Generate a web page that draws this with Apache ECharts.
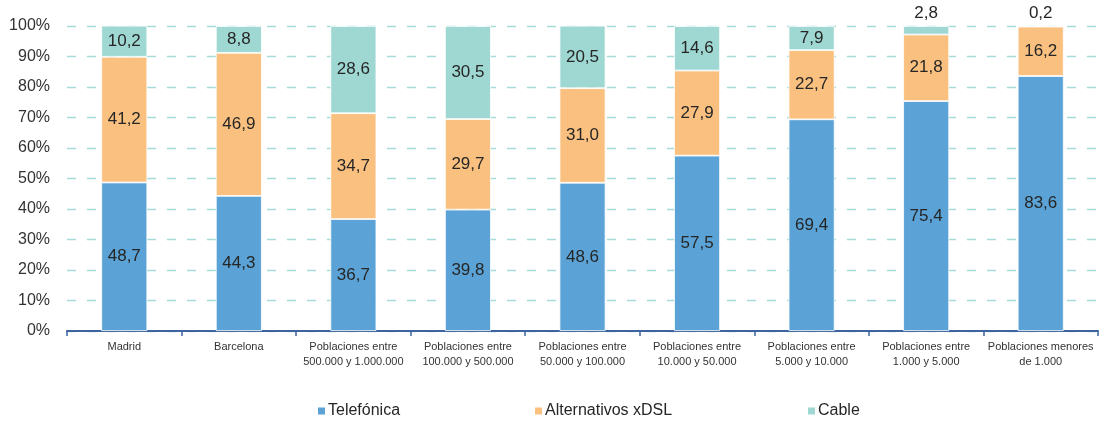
<!DOCTYPE html>
<html><head><meta charset="utf-8">
<script src="https://cdn.jsdelivr.net/npm/echarts@6/dist/echarts.min.js"></script>
<style>html,body{margin:0;padding:0;background:#fff}#c{width:1099px;height:422px}</style>
</head><body><div id="c"></div>
<script>
const categories = ['Madrid','Barcelona','Poblaciones entre\n500.000 y 1.000.000','Poblaciones entre\n100.000 y 500.000','Poblaciones entre\n50.000 y 100.000','Poblaciones entre\n10.000 y 50.000','Poblaciones entre\n5.000 y 10.000','Poblaciones entre\n1.000 y 5.000','Poblaciones menores\nde 1.000'];
const telefonica = [48.7, 44.3, 36.7, 39.8, 48.6, 57.5, 69.4, 75.4, 83.6];
const alternativos = [41.2, 46.9, 34.7, 29.7, 31.0, 27.9, 22.7, 21.8, 16.2];
const cable = [10.2, 8.8, 28.6, 30.5, 20.5, 14.6, 7.9, 2.8, 0.2];
const seriesNames = ['Telefónica','Alternativos xDSL','Cable'];
const colors = ['#5ba3d6','#fac07f','#9fd8d2'];

const font = 'Liberation Sans, Arial, sans-serif';
const fmt = v => v.toFixed(1).replace('.', ',');
const lbl = {show:true, position:'inside', fontSize:17, color:'#262626', fontFamily:font, formatter:p=>fmt(p.value)};

function cableData(){
  return cable.map((v,i)=>{
    if (v < 5) return {value:v, label:{position:'top', distance:4}};
    return v;
  });
}

const chart = echarts.init(document.getElementById('c'));
chart.setOption({
  animation:false,
  textStyle:{fontFamily:font},
  grid:{left:67, right:1, top:26, bottom:91},
  legend:[0,1,2].map((i)=>({
    data:[seriesNames[i]], left:[316,533,806][i], top:403, padding:0, itemWidth:9, itemHeight:9, itemGap:0,
    icon:'rect', textStyle:{fontSize:16, color:'#262626', fontFamily:font, padding:[0,0,0,-3]}, selectedMode:false
  })),
  xAxis:{type:'category', data:categories,
    axisLine:{lineStyle:{color:'#3d64a0', width:2}},
    axisTick:{show:true, length:5, lineStyle:{color:'#3d64a0', width:1.5}},
    axisLabel:{fontSize:11, color:'#333', lineHeight:15, margin:8, interval:0, fontFamily:font}
  },
  yAxis:{type:'value', min:0, max:100, interval:10,
    axisLabel:{formatter:'{value}%', fontSize:16, color:'#333', margin:17, fontFamily:font},
    axisLine:{show:false}, axisTick:{show:false},
    splitLine:{lineStyle:{color:'#a6dcd7', type:[9,11], width:1.3}}
  },
  series:[
    {name:seriesNames[0], type:'bar', stack:'a', data:telefonica, barWidth:46, itemStyle:{color:colors[0], borderColor:'#fff', borderWidth:0.8}, label:lbl},
    {name:seriesNames[1], type:'bar', stack:'a', data:alternativos, barWidth:46, itemStyle:{color:colors[1], borderColor:'#fff', borderWidth:0.8}, label:lbl},
    {name:seriesNames[2], type:'bar', stack:'a', data:cableData(), barWidth:46, itemStyle:{color:colors[2], borderColor:'#fff', borderWidth:0.8}, label:lbl}
  ]
});
</script></body></html>
